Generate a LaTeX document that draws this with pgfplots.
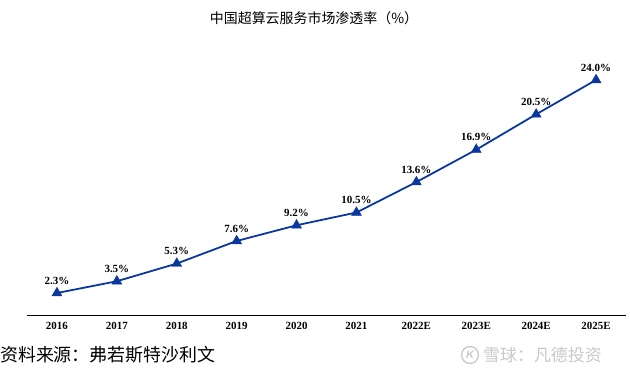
\documentclass[border=0pt]{standalone}
\usepackage{fontspec}
\setmainfont{Liberation Serif}
\newfontfamily\cjk{Noto Sans CJK SC}
\usepackage{pgfplots}
\pgfplotsset{compat=1.18}
\definecolor{lineblue}{RGB}{10,55,158}
\definecolor{wm}{RGB}{200,200,200}
\begin{document}
\begin{tikzpicture}[x=1bp,y=1bp]
\useasboundingbox (0,0) rectangle (630,375);
\begin{axis}[
  at={(27bp,59.4bp)}, anchor=south west,
  scale only axis, width=599bp, height=255.3bp,
  xmin=-0.5, xmax=9.5, ymin=0, ymax=26,
  axis x line*=bottom, axis y line=none,
  axis line style={black, line width=0.9pt, -},
  xtick={0,...,9},
  xticklabels={2016,2017,2018,2019,2020,2021,2022E,2023E,2024E,2025E},
  xticklabel style={font=\fontsize{11}{12}\selectfont\bfseries, yshift=-3bp},
  major tick length=0pt,
  clip=false,
  point meta=explicit symbolic,
  nodes near coords,
  every node near coord/.append style={font=\fontsize{11}{12}\selectfont\bfseries, text=black, yshift=5bp},
]
\addplot[color=lineblue, line width=1.8pt, mark=triangle*, mark size=5.8pt, mark options={fill=lineblue, draw=lineblue, line width=0.4pt}]
coordinates {
(0,2.3) [2.3\%]
(1,3.5) [3.5\%]
(2,5.3) [5.3\%]
(3,7.6) [7.6\%]
(4,9.2) [9.2\%]
(5,10.5) [10.5\%]
(6,13.6) [13.6\%]
(7,16.9) [16.9\%]
(8,20.5) [20.5\%]
(9,24.0) [24.0\%]
};
\end{axis}
\node[anchor=center, font=\cjk\fontsize{14}{16}\selectfont] at (314,357) {中国超算云服务市场渗透率（\%）};
\node[anchor=west, inner sep=0pt, font=\cjk\fontsize{18}{20}\selectfont] at (0,20) {资料来源：弗若斯特沙利文};
\draw[wm, line width=1.3pt] (470,20) circle (8.5);
\node[text=wm, font=\sffamily\bfseries\fontsize{11}{12}\selectfont] at (470,20) {\textit{K}};
\node[anchor=west, inner sep=0pt, text=wm, font=\cjk\fontsize{17}{19}\selectfont] at (483,20) {雪球：凡德投资};
\end{tikzpicture}
\end{document}
